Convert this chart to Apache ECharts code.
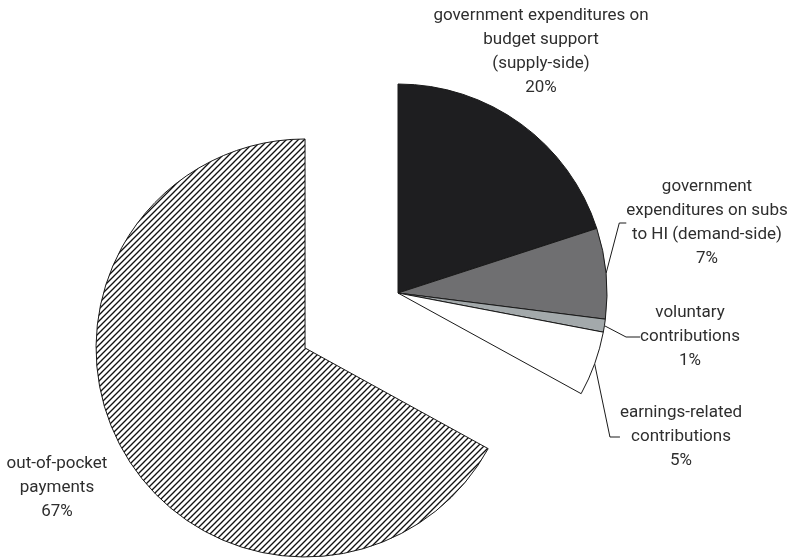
<!DOCTYPE html>
<html>
<head>
<meta charset="utf-8">
<script src="https://cdn.jsdelivr.net/npm/echarts@6/dist/echarts.min.js"></script>
<style>
html,body{margin:0;padding:0;background:#fff;}
#chart{width:792px;height:559px;}
</style>
</head>
<body>
<div id="chart"></div>
<script>
// ---- data ----
var categories = [
  "government expenditures on\nbudget support\n(supply-side)",
  "government\nexpenditures on subs\nto HI (demand-side)",
  "voluntary\ncontributions",
  "earnings-related\ncontributions",
  "out-of-pocket\npayments"
];
var shares = [20, 7, 1, 5, 67];
var explodedIndex = 4;

// ---- layout / style (not data) ----
var pieCenter = [398, 293];
var pieRadius = 209;
var explodeDist = 108;
var labelPos = [[541, 52], [707, 223], [690, 337], [681, 437], [57, 488]];
var showLine = [false, true, true, true, false];
var lineLen2 = [0, 7, 14, 10, 0];
var FONT = "Roboto, 'Noto Sans', sans-serif";

function hatch() {
  var s = 6;
  var c = document.createElement('canvas');
  c.width = s; c.height = s;
  var ctx = c.getContext('2d');
  ctx.fillStyle = '#ffffff';
  ctx.fillRect(0, 0, s, s);
  ctx.strokeStyle = '#111111';
  ctx.lineWidth = 1.35;
  ctx.beginPath();
  ctx.moveTo(-1, s + 1); ctx.lineTo(s + 1, -1);
  ctx.moveTo(-1, 1); ctx.lineTo(1, -1);
  ctx.moveTo(s - 1, s + 1); ctx.lineTo(s + 1, s - 1);
  ctx.stroke();
  return { image: c, repeat: 'repeat' };
}
var fills = ['#1e1e20', '#6f6f71', '#a3a9ab', '#ffffff', hatch()];

// offset of exploded slice along its mid-angle (clockwise from 12 o'clock)
var total = shares.reduce(function (a, b) { return a + b; }, 0);
var before = 0;
for (var k = 0; k < explodedIndex; k++) before += shares[k];
var midFrac = (before + shares[explodedIndex] / 2) / total;
var th = midFrac * 2 * Math.PI;
var explodedCenter = [pieCenter[0] + explodeDist * Math.sin(th), pieCenter[1] - explodeDist * Math.cos(th)];

function hiddenItem(v) {
  return {
    name: '', value: v,
    itemStyle: { color: 'rgba(0,0,0,0)', borderWidth: 0 },
    label: { show: false },
    labelLine: { show: false }
  };
}

function item(i) {
  return {
    name: categories[i],
    value: shares[i],
    itemStyle: { color: fills[i] },
    labelLine: { show: showLine[i], length: 10, length2: lineLen2[i] }
  };
}

// per-series: data and which category each data index shows (-1 = placeholder)
var mainData = [], mainMap = [];
for (var i = 0; i < shares.length; i++) {
  if (i === explodedIndex) { mainData.push(hiddenItem(shares[i])); mainMap.push(-1); }
  else { mainData.push(item(i)); mainMap.push(i); }
}
var explData = [], explMap = [];
if (before > 0) { explData.push(hiddenItem(before)); explMap.push(-1); }
explData.push(item(explodedIndex)); explMap.push(explodedIndex);
var after = total - before - shares[explodedIndex];
if (after > 0) { explData.push(hiddenItem(after)); explMap.push(-1); }
var maps = [mainMap, explMap];

function labelLayoutFn(p) {
  var idx = maps[p.seriesIndex][p.dataIndex];
  if (idx == null || idx < 0) return {};
  var pos = labelPos[idx];
  return { x: pos[0], y: pos[1], align: 'center', verticalAlign: 'middle' };
}

var common = {
  type: 'pie',
  radius: pieRadius,
  startAngle: 90,
  clockwise: true,
  avoidLabelOverlap: false,
  silent: true,
  itemStyle: { borderColor: '#1a1a1a', borderWidth: 1 },
  emphasis: { disabled: true },
  label: {
    show: true,
    position: 'outside',
    formatter: function (p) { return p.name + '\n' + p.value + '%'; },
    fontFamily: FONT,
    fontSize: 17,
    lineHeight: 24,
    color: '#2e2e2e'
  },
  labelLine: { lineStyle: { color: '#1a1a1a', width: 1 } },
  labelLayout: labelLayoutFn
};

var chart = echarts.init(document.getElementById('chart'), null, { renderer: 'canvas' });
chart.setOption({
  animation: false,
  backgroundColor: '#ffffff',
  series: [
    Object.assign({}, common, { center: pieCenter, data: mainData }),
    Object.assign({}, common, { center: explodedCenter, data: explData })
  ]
});
</script>
</body>
</html>
